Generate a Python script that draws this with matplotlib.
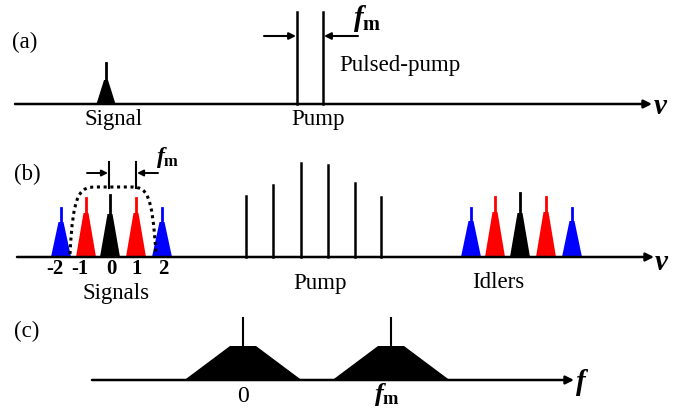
import numpy as np
import matplotlib.pyplot as plt
from matplotlib.path import Path
from matplotlib.patches import PathPatch, Polygon

# ---- data (picture units, y grows downward) ----
# panel (a)
a_base = 104
a_signal_x = 106
a_signal_h = [24, 41]            # trapezoid top, line top
a_pump_x = [297, 323]
a_pump_h = 92

# panel (b)
b_base = 257
sig_x = [61, 86, 110, 136, 162]
sig_labels = ['-2', '-1', '0', '1', '2']
sig_tri_h = [35, 44, 43, 44, 35]
sig_line_h = [49, 59, 62, 59, 49]
comb_colors = ['#0000ff', '#ff0000', '#000000', '#ff0000', '#0000ff']
pump_x = [246, 273, 301, 328, 355, 381]
pump_h = [61, 72, 94, 92, 74, 60]
idl_x = [471, 495, 520, 546, 572]
idl_tri_h = [36, 45, 44, 45, 36]
idl_line_h = [49, 60, 64, 60, 49]

# panel (c)
c_base = 380
c_x = [243, 391]
c_top_h = 34
c_line_h = 62

plt.rcParams['mathtext.fontset'] = 'custom'
plt.rcParams['mathtext.rm'] = 'Liberation Serif'
plt.rcParams['mathtext.it'] = 'Liberation Serif:italic:bold'
plt.rcParams['mathtext.bf'] = 'Liberation Serif:bold'

fig = plt.figure(figsize=(6.78, 4.09), dpi=100)
ax = fig.add_axes([0, 0, 1, 1])
ax.set_xlim(0, 678)
ax.set_ylim(409, 0)
ax.axis('off')

serif = 'Liberation Serif'
fs = 16.5


def peak(x, base, tri_h, line_h, color, hw=10, tw=2.5, lw=2):
    ax.add_patch(Polygon([(x - hw, base), (x - tw, base - tri_h),
                          (x + tw, base - tri_h), (x + hw, base)],
                         closed=True, color=color, lw=0))
    ax.plot([x, x], [base - tri_h, base - line_h], color=color, lw=lw)


def arrow(x0, x1, y, lw=1.8, ms=12):
    ax.annotate('', xy=(x1, y), xytext=(x0, y),
                arrowprops=dict(arrowstyle='-|>', color='black', lw=lw,
                                mutation_scale=ms, shrinkA=0, shrinkB=0))


# ---------------- (a) ----------------
ax.text(12, 42, '(a)', fontsize=fs, family=serif, va='center')
arrow(15, 652, a_base)
ax.text(654, 106, 'v', fontsize=21, family=serif, weight='bold',
        style='italic', va='center')
peak(a_signal_x, a_base, a_signal_h[0], a_signal_h[1], 'black', hw=9.5, tw=2)
for x in a_pump_x:
    ax.plot([x, x], [a_base, a_base - a_pump_h], color='black', lw=1.8)
arrow(264, a_pump_x[0] - 1, 36, lw=1.5, ms=10)
arrow(358, a_pump_x[1] + 1, 36, lw=1.5, ms=10)
ax.text(353, 19, r'$f_{\mathbf{m}}$', fontsize=21, va='center')
ax.text(339, 66, 'Pulsed-pump', fontsize=fs, family=serif, va='center')
ax.text(114, 120, 'Signal', fontsize=fs, family=serif, ha='center', va='center')
ax.text(318, 120, 'Pump', fontsize=fs, family=serif, ha='center', va='center')

# ---------------- (b) ----------------
ax.text(14, 174, '(b)', fontsize=fs, family=serif, va='center')
arrow(17, 654, b_base)
ax.text(655, 262, 'v', fontsize=21, family=serif, weight='bold',
        style='italic', va='center')
for x, th, lh, c in zip(sig_x, sig_tri_h, sig_line_h, comb_colors):
    peak(x, b_base, th, lh, c)
for x, th, lh, c in zip(idl_x, idl_tri_h, idl_line_h, comb_colors):
    peak(x, b_base, th, lh, c)
for x, h in zip(pump_x, pump_h):
    ax.plot([x, x], [b_base, b_base - h], color='black', lw=1.8)
for x, s in zip(sig_x, sig_labels):
    dx = -6 if s.startswith('-') else 1
    ax.text(x + dx, 269, s, fontsize=15, family=serif, weight='bold',
            ha='center', va='center')

# dotted envelope
verts = [(70, 254), (73, 192), (80, 187), (96, 187), (130, 187),
         (147, 187), (152, 192), (156, 254)]
codes = [Path.MOVETO, Path.CURVE4, Path.CURVE4, Path.CURVE4, Path.LINETO,
         Path.CURVE4, Path.CURVE4, Path.CURVE4]
ax.add_patch(PathPatch(Path(verts, codes), fill=False, lw=2.2,
                       linestyle=(0, (1, 1.2)), color='black'))

# f_m marker over signals
for x in [109, 136]:
    ax.plot([x, x], [162, 188], color='black', lw=1.5)
arrow(87, 108, 173, lw=1.4, ms=9)
arrow(158, 137, 173, lw=1.4, ms=9)
ax.text(156, 157, r'$f_{\mathbf{m}}$', fontsize=17, va='center')

ax.text(116, 293, 'Signals', fontsize=fs, family=serif, ha='center', va='center')
ax.text(320, 284, 'Pump', fontsize=fs, family=serif, ha='center', va='center')
ax.text(498, 283, 'Idlers', fontsize=fs, family=serif, ha='center', va='center')

# ---------------- (c) ----------------
ax.text(14, 331, '(c)', fontsize=fs, family=serif, va='center')
arrow(92, 574, c_base)
ax.text(576, 383, 'f', fontsize=21, family=serif, weight='bold',
        style='italic', va='center')
for x in c_x:
    peak(x, c_base, c_top_h, c_line_h, 'black', hw=58.5, tw=13, lw=1.5)
ax.text(243, 396, '0', fontsize=17, family=serif, ha='center', va='center')
ax.text(374, 394, r'$f_{\mathbf{m}}$', fontsize=19, va='center')

fig.savefig('out.png', dpi=100)
